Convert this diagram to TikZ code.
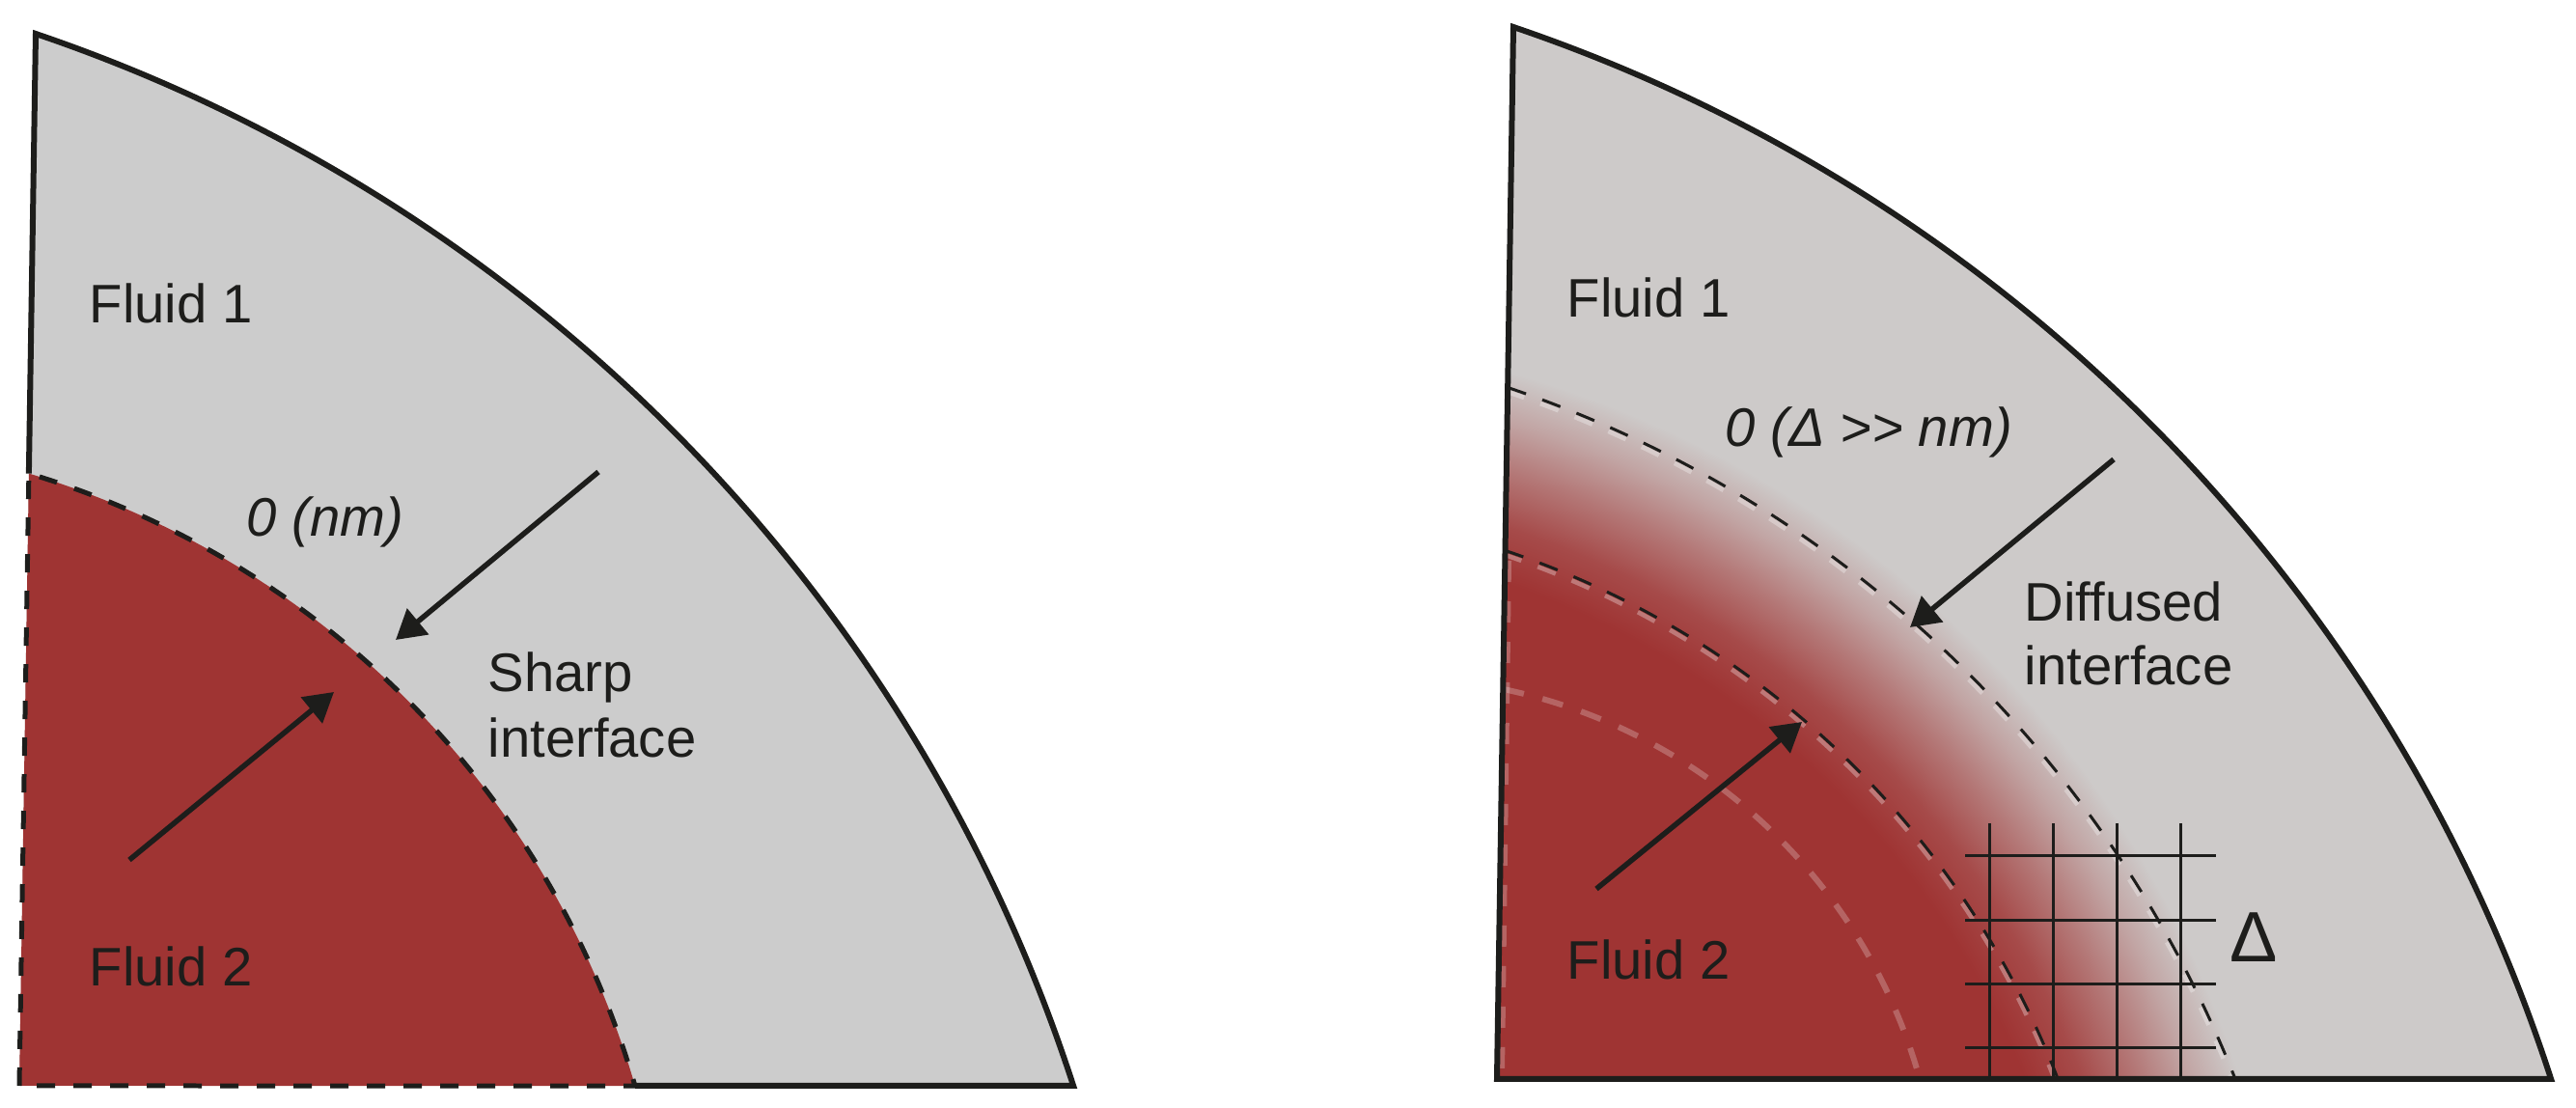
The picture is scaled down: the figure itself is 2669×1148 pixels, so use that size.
\documentclass[tikz,border=0pt]{standalone}
\usepackage{fontspec}
\setmainfont{Liberation Sans}
\usepackage{xcolor}
\usepackage{tikz}
\usetikzlibrary{arrows.meta, calc}
\definecolor{ink}{RGB}{29, 29, 27}
\definecolor{fluidgray}{RGB}{204, 204, 204}
\definecolor{warmgray}{RGB}{205, 202, 201}
\definecolor{fluidred}{RGB}{159, 52, 51}
\colorlet{blendA}{fluidred!85!warmgray}
\colorlet{blendB}{fluidred!55!warmgray}
\colorlet{blendC}{fluidred!25!warmgray}
\pgfdeclareradialshading{diffusezone}{\pgfpoint{0bp}{0bp}}{%
  color(0bp)=(fluidred); color(18bp)=(fluidred); color(19.1bp)=(blendA);
  color(20.2bp)=(blendB); color(21.2bp)=(blendC); color(22.2bp)=(warmgray);
  color(50bp)=(warmgray)}
\tikzset{
  every node/.style={font=\fontsize{16pt}{19pt}\selectfont, text=ink, inner sep=0pt},
  fluidtext/.style={anchor=base west},
  thicknesstext/.style={anchor=base west, font=\fontsize{16pt}{19pt}\selectfont\itshape},
  deltatext/.style={anchor=base, font=\fontsize{21pt}{25pt}\selectfont},
  outline/.style={draw=ink, line width=0.6mm, line join=miter},
  sharpline/.style={draw=ink, line width=0.5mm, dash pattern=on 1.9mm off 1.9mm},
  diffline/.style={draw=ink, line width=0.3mm, dash pattern=on 2mm off 1.8mm},
  ghostdash/.style={draw=white, draw opacity=0.3, line width=0.45mm, dash pattern=on 2mm off 1.8mm},
  ghostline/.style={draw=white, draw opacity=0.24, line width=0.6mm, dash pattern=on 2.2mm off 2mm},
  meshline/.style={draw=ink, line width=0.3mm},
  pointer/.style={draw=ink, line width=0.55mm, -{Triangle[length=3mm, width=3.4mm]}}
}

\begin{document}
\begin{tikzpicture}[x=0.1mm, y=0.1mm]
  \useasboundingbox (0,0) rectangle (2669,1148);

  % Left panel: sharp interface
  \coordinate (lt) at (37,1113);
  \coordinate (lb) at (20,23);
  \coordinate (lm) at (29.9,657.4);
  \coordinate (le) at (658.1,23);
  \fill[fluidgray] (lt) arc[start angle=71.25, end angle=17.96, radius=170.7mm] -- (lb) -- cycle;
  \fill[fluidred] (lb) -- (lm) arc[start angle=73.26, end angle=16.16, radius=93.4mm] -- cycle;
  \draw[sharpline] (lb) -- (lm) arc[start angle=73.26, end angle=16.16, radius=93.4mm] -- cycle;
  \draw[outline] (lm) -- (lt) arc[start angle=71.25, end angle=17.96, radius=170.7mm] -- (le);

  \node[fluidtext] (lfluidone) at (92,813) {Fluid 1};
  \node[fluidtext] (lfluidtwo) at (92,126) {Fluid 2};
  \node[thicknesstext] (lthick) at (255,592) {0 (nm)};
  \node[fluidtext] (lsharp) at (505,431) {Sharp};
  \node[fluidtext] (lsharpb) at (505,363) {interface};

  \coordinate (lpa) at (620,659);
  \coordinate (lqa) at (410,485);
  \coordinate (lpb) at (134,257);
  \coordinate (lqb) at (346,431);
  \draw[pointer] (lpa) -- (lqa);
  \draw[pointer] (lpb) -- (lqb);

  % Right panel: diffused interface
  \begin{scope}[shift={(1531,7)}]
    \coordinate (rt) at (37,1113);
    \coordinate (rb) at (20,23);
    \fill[warmgray] (rt) arc[start angle=71.25, end angle=17.96, radius=170.7mm] -- (rb) -- cycle;
    \begin{scope}
      \clip (rt) arc[start angle=71.25, end angle=17.96, radius=170.7mm] -- (rb) -- cycle;
      \shade[shading=diffusezone] (-268,-313) circle[radius=125mm];
    \end{scope}

    % faint traces
    \draw[ghostline] (26.4,427) arc[start angle=78.2, end angle=15.6, radius=56.9mm];
    \draw[ghostline] (32,560) -- (25,30);
    \draw[ghostdash, shift={(-2,-4)}] (31.2,739.5) arc[start angle=71.29, end angle=21.61, radius=123.8mm];
    \draw[ghostdash, shift={(-2,-4)}] (28.4,570.6) arc[start angle=71.45, end angle=21.13, radius=93.2mm];

    % interface limits
    \draw[diffline] (31.2,739.5) arc[start angle=71.29, end angle=21.61, radius=123.8mm];
    \draw[diffline] (28.4,570.6) arc[start angle=71.45, end angle=21.13, radius=93.2mm];

    % mesh
    \foreach \i in {0,...,3} {
      \draw[meshline] ({530+66.3*\i},288) -- ({530+66.3*\i},23);
      \draw[meshline] (505,{254-66.3*\i}) -- (765,{254-66.3*\i});
    }

    \draw[outline] (rt) arc[start angle=71.25, end angle=17.96, radius=170.7mm] -- (rb) -- cycle;

    \node[fluidtext] (rfluidone) at (92,812) {Fluid 1};
    \node[fluidtext] (rfluidtwo) at (92,126) {Fluid 2};
    \node[thicknesstext] (rthick) at (256,678) {0 (Δ >{}> nm)};
    \node[fluidtext] (rdiff) at (566,497) {Diffused};
    \node[fluidtext] (rdiffb) at (566,431) {interface};
    \node[deltatext] (rdelta) at (804,144) {Δ};

    \coordinate (rpa) at (659,665);
    \coordinate (rqa) at (448,491);
    \coordinate (rpb) at (123,220);
    \coordinate (rqb) at (336,393);
    \draw[pointer] (rpa) -- (rqa);
    \draw[pointer] (rpb) -- (rqb);
  \end{scope}
\end{tikzpicture}
\end{document}
